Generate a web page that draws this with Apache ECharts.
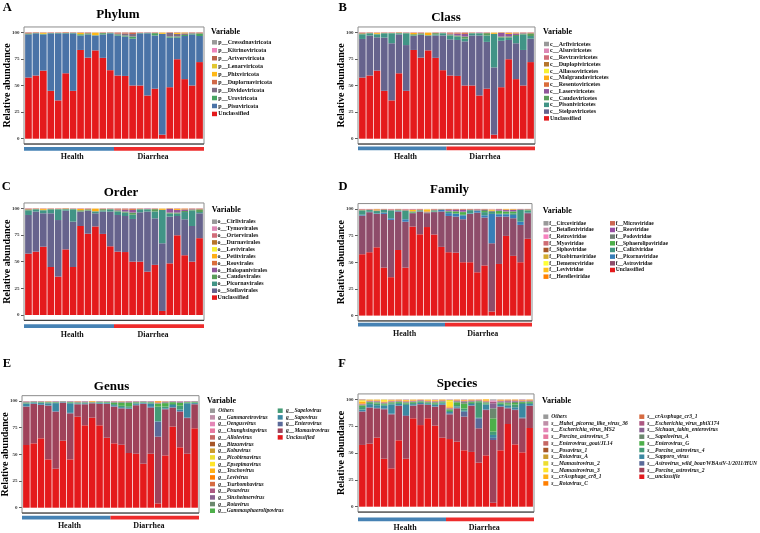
<!DOCTYPE html>
<html><head><meta charset="utf-8">
<script src="https://cdn.jsdelivr.net/npm/echarts@6/dist/echarts.min.js"></script>
<style>html,body{margin:0;padding:0;background:#fff}#c{width:760px;height:533px}</style>
</head><body><div id="c"></div>
<script>
// ---------------- DATA ----------------
const samples = ['H1','H2','H3','H4','H5','H6','H7','H8','H9','H10','H11','H12','D1','D2','D3','D4','D5','D6','D7','D8','D9','D10','D11','D12'];
const groupNames = ['Health','Diarrhea'];
const yTicks = [0,25,50,75,100];
const Z = [0,0,0,0,0,0,0,0,0,0,0,0,0,0,0,0,0,0,0,0,0,0,0,0];

// A  Phylum (stack order bottom -> top)
const phylumNames = ['Unclassified','p__Pisuviricota','p__Uroviricota','p__Dividoviricota','p__Duplornaviricota','p__Phixviricota','p__Lenarviricota','p__Artverviricota','p__Kitrinoviricota','p__Cressdnaviricota'];
const phylumValues = [
 [57.5,59.4,64,45,36,61.5,45,83.4,76.2,83,76,64.4,59.4,59,50,50,40.6,47,3.8,48.4,74.7,56,50,72],
 [40.6,39.6,34,54,63,37.5,54,13.6,21.8,14,22,34.6,37.6,37,44,49,58.4,50,94.6,46.6,20.3,40.5,48,24.5],
 [0.8,0.3,0.6,0.3,0.4,0.4,0.5,1.2,1.0,0.3,1.2,0.5,1.0,1.0,2.0,0.3,0.3,2.2,0.2,1.0,1.0,1.0,0.8,2.5],
 [0,0,0,0,0,0,0,0,0,0,0,0,0.8,1.8,2.4,0,0.4,0,0,3.5,2.5,1.5,0.4,0],
 [0.6,0.4,0,0.4,0.3,0.6,0,0,0.5,0,0.4,0,0.8,0.8,1.0,0.4,0,0.4,0,0.5,0,0,0.4,0.5],
 [0,0,1.0,0,0,0,0,1.3,0,2.2,0,0,0,0,0,0,0,0,0.9,0,1.0,0.7,0,0],
 [0,0,0,0,0,0,0,0,0,0.3,0,0,0,0,0,0,0,0,0.3,0,0,0,0,0],
 [0.4,0.3,0.3,0.2,0.2,0,0.4,0.4,0.4,0.1,0.3,0.4,0.3,0.3,0.5,0.2,0.2,0.3,0.1,0,0.4,0.2,0.3,0.4],
 [0.1,0,0.1,0.1,0.1,0,0.1,0.1,0.1,0.1,0.1,0.1,0.1,0.1,0.1,0.1,0.1,0.1,0.1,0,0.1,0.1,0.1,0.1],
 Z
];

// B  Class
const classNames = ['Unclassified','c__Stelpaviricetes','c__Pisoniviricetes','c__Caudoviricetes','c__Laserviricetes','c__Resentoviricetes','c__Malgrandaviricetes','c__Allassoviricetes','c__Duplopiviricetes','c__Revtraviricetes','c__Alsuviricetes','c__Arfiviricetes'];
const classValues = [
 [57.5,59.4,64,45,36,61.5,45,83.4,76.2,83,76,64.4,59.4,59,50,50,40.6,47,3.8,48.4,74.7,56,50,72],
 [36.25,37.5,31.3,50,53.7,36.5,43,13.1,21.3,13.5,21,32.6,34,33.8,41.5,47,56.4,44,63.2,43.6,18.1,33.7,33.4,22],
 [4.35,2.1,2.7,4,9.3,1,11,0.5,0.5,0.5,1,2,3.6,3.2,2.5,2,2,6,31.4,3,2.2,6.8,14.6,2.5],
 [0.8,0.3,0.6,0.3,0.4,0.4,0.5,1.2,1.0,0.3,1.2,0.5,1.0,1.0,2.0,0.3,0.3,2.2,0.2,1.0,1.0,1.0,0.8,2.5],
 [0,0,0,0,0,0,0,0,0,0,0,0,0.8,1.8,2.4,0,0.4,0,0,3.5,2.5,1.5,0.4,0],
 [0.4,0.2,0,0.2,0.3,0.4,0,0,0.3,0,0.2,0,0.6,0.6,0.8,0.2,0,0.2,0,0.3,0,0,0.2,0.3],
 [0,0,1.0,0,0,0,0,1.3,0,2.2,0,0,0,0,0,0,0,0,0.9,0,1.0,0.7,0,0],
 [0,0,0,0,0,0,0,0,0,0.3,0,0,0,0,0,0,0,0,0.3,0,0,0,0,0],
 [0.2,0.2,0,0.2,0,0.2,0,0,0.2,0,0.2,0,0.2,0.2,0.2,0.2,0,0.2,0,0.2,0,0,0.2,0.2],
 [0.4,0.3,0.3,0.2,0.2,0,0.4,0.4,0.4,0.1,0.3,0.4,0.3,0.3,0.5,0.2,0.2,0.3,0.1,0,0.4,0.2,0.3,0.4],
 [0.1,0,0.1,0.1,0.1,0,0.1,0.1,0.1,0.1,0.1,0.1,0.1,0.1,0.1,0.1,0.1,0.1,0.1,0,0.1,0.1,0.1,0.1],
 Z
];

// C  Order
const orderNames = ['Unclassified','o__Stellavirales','o__Picornavirales','o__Caudovirales','o__Halopanivirales','o__Reovirales','o__Petitvirales','o__Levivirales','o__Durnavirales','o__Ortervirales','o__Tymovirales','o__Cirlivirales'];
const orderValues = [
 [57.5,59.4,64,45,36,61.5,45,83.4,76.2,83,76,64.4,59.4,59,50,50,40.6,47,3.8,48.4,74.7,56,50,72],
 [36.25,37.5,31.3,50.3,53,36.3,42.5,13.5,21.6,12.3,20.9,32.5,34.35,33.8,40,46.25,56.3,43.6,63.4,43.8,18.1,33.7,33.4,23.3],
 [4.35,2.1,2.7,3.7,10,1.2,11.5,0.1,0.2,1.7,1.1,2.1,3.25,3.2,4,2.75,2.1,6.4,31.2,2.8,2.2,6.8,14.6,1.2],
 [0.8,0.3,0.6,0.3,0.4,0.4,0.5,1.2,1.0,0.3,1.2,0.5,1.0,1.0,2.0,0.3,0.3,2.2,0.2,1.0,1.0,1.0,0.8,2.5],
 [0,0,0,0,0,0,0,0,0,0,0,0,0.8,1.8,2.4,0,0.4,0,0,3.5,2.5,1.5,0.4,0],
 [0.4,0.2,0,0.2,0.3,0.4,0,0,0.3,0,0.2,0,0.6,0.6,0.8,0.2,0,0.2,0,0.3,0,0,0.2,0.3],
 [0,0,1.0,0,0,0,0,1.3,0,2.2,0,0,0,0,0,0,0,0,0.9,0,1.0,0.7,0,0],
 [0,0,0,0,0,0,0,0,0,0.3,0,0,0,0,0,0,0,0,0.3,0,0,0,0,0],
 [0.2,0.2,0,0.2,0,0.2,0,0,0.2,0,0.2,0,0.2,0.2,0.2,0.2,0,0.2,0,0.2,0,0,0.2,0.2],
 [0.4,0.3,0.3,0.2,0.2,0,0.4,0.4,0.4,0.1,0.3,0.4,0.3,0.3,0.5,0.2,0.2,0.3,0.1,0,0.4,0.2,0.3,0.4],
 [0.1,0,0.1,0.1,0.1,0,0.1,0.1,0.1,0.1,0.1,0.1,0.1,0.1,0.1,0.1,0.1,0.1,0.1,0,0.1,0.1,0.1,0.1],
 Z
];

// D  Family
const familyNames = ['Unclassified','f__Astroviridae','f__Picornaviridae','f__Caliciviridae','f__Sphaerolipoviridae','f__Podoviridae','f__Reoviridae','f__Microviridae','f__Herelleviridae','f__Leviviridae','f__Demerecviridae','f__Picobirnaviridae','f__Siphoviridae','f__Myoviridae','f__Retroviridae','f__Betaflexiviridae','f__Circoviridae'];
const familyValues = [
 [57.5,59.4,64,45,36,61.5,45,83.4,76.2,83,76,64.4,59.4,59,50,50,40.6,47,3.8,48.4,74.7,56,50,72],
 [36.25,37.5,31.3,50.3,53.7,36,43,12.6,21.3,13,21,33.1,34,33.8,40.3,45.3,55.9,44.9,64,44.4,18.1,35.25,35,24],
 [0.8,0.4,0.5,1.2,1.5,0.5,2.3,0.3,0.3,0.3,0.3,1.5,2.6,2.5,3.7,0.5,1.5,2.1,27.5,2.2,2.2,3.1,3,0.5],
 [3.5,1.6,2.2,2.5,7.3,0.5,8,0.2,0.2,0.2,0.5,0.3,1.2,0.5,0.5,3,0.3,3.0,2.0,0.5,0.5,1.5,11,2],
 [0.5,0,0,0,0,0.3,0,0.6,0.5,0,0.6,0,0.6,1.8,2.5,0,0,1.0,0,2.5,2.0,1.5,0,0.6],
 [0.4,0.3,0.4,0.3,0.4,0.4,0.5,0.6,0.5,0.3,0.6,0.3,0.4,0.4,0.5,0.4,0.5,1.2,1.0,0.5,0.4,0.6,0.3,0.4],
 [0,0,0,0,0,0,0,0,0,0,0,0,0.8,1.2,1.5,0,0.5,0,0,1.0,1.0,1.0,0.3,0],
 [0.3,0.2,0.3,0.3,0.3,0.4,0.4,0,0.4,0.8,0.4,0,0.6,0.6,0.7,0.4,0,0.4,0,0.5,0.6,0,0,0.3],
 Z,
 [0,0,0.8,0,0,0,0,1.3,0,1.8,0,0,0,0,0,0,0,0,0.8,0,0.5,0.6,0,0],
 [0,0,0,0,0,0,0,0,0,0.3,0,0,0,0,0,0,0,0,0.3,0,0,0,0,0],
 Z,
 [0.2,0.2,0.2,0.2,0.2,0.2,0.2,0.3,0.2,0,0.2,0.2,0.2,0,0,0.2,0.3,0.2,0,0,0,0.2,0.2,0],
 [0.4,0.3,0.3,0.2,0.4,0.2,0.4,0.5,0.4,0.2,0.4,0.2,0.2,0.2,0.3,0.2,0.4,0.2,0.3,0,0,0.25,0.2,0.2],
 [0.15,0.1,0,0,0.2,0,0.2,0.2,0,0.1,0,0,0,0,0,0,0,0,0.3,0,0,0,0,0],
 Z,
 Z
];

// E  Genus
const genusNames = ['Unclassified','g__Mamastrovirus','g__Enterovirus','g__Sapovirus','g__Sapelovirus','g__Gammasphaerolipovirus','g__Rotavirus','g__Sinsheimervirus','g__Posavirus','g__Tsarbombavirus','g__Levivirus','g__Teschovirus','g__Epsepimavirus','g__Picobirnavirus','g__Kobuvirus','g__Bizzanvirus','g__Allolevirus','g__Chunghsingvirus','g__Oengusvirus','g__Gammaretrovirus','Others'];
const genusValues = [
 [58.75,60.3,65,45.3,36.6,62.8,45.3,85.3,77.2,84.4,77.2,65.6,60.3,59,51.25,50.6,41.25,50.6,4,49,76,56.6,50.6,74.4],
 [35.95,36.9,31.25,50.3,53.4,35.6,43.1,11.6,19.7,13.4,20,31.6,34.4,34,41.25,45.4,55.95,43.15,62.6,43.2,17.75,33.4,33.4,22.5],
 [0.3,0.3,0.3,0.4,0.5,0.2,0.5,0.2,0.3,0.2,0.3,0.3,0.4,0.5,0.5,0.4,0.4,0.8,14,0.5,0.5,0.6,0.6,0.3],
 [2.5,1.1,1.5,1.8,7.5,0.4,9.0,0.5,0.6,0.3,0.8,0.6,1.0,0.8,0.6,1.2,0.8,3.0,0.5,0.6,2.0,1.5,13.3,0.8],
 [0.5,0.3,0.5,0.6,0.5,0.3,0.6,0.4,0.4,0.3,0.4,0.4,1.0,1.2,1.5,0.6,0.4,0.8,13.6,1.5,1.0,3.5,0.6,0.6],
 [0.5,0.3,0.4,0.4,0.4,0.2,0.5,0.5,0.4,0.2,0.4,0.5,1.3,2.8,3.2,0.6,0.4,0.5,2.8,3.2,1.6,2.5,0.5,0.6],
 [0.3,0.2,0.3,0.3,0.3,0.2,0.3,0.3,0.3,0.2,0.3,0.3,0.5,0.6,0.6,0.4,0.3,0.4,0.4,0.7,0.4,0.6,0.3,0.3],
 [0.2,0.2,0.2,0.2,0.2,0,0.2,0.2,0.5,0,0.2,0.2,0.3,0.3,0.3,0.2,0.2,0.2,0.2,0.3,0.3,0.5,0.2,0.2],
 [0.3,0.2,0.2,0.2,0.3,0.2,0.3,0.3,0.3,0,0.2,0.3,0.3,0.3,0.4,0.3,0.2,0.3,0.3,0.4,0.3,0.4,0.3,0.2],
 [0.2,0.1,0.2,0,0,0,0,0,0,0,0,0,0.2,0,0.2,0,0,0,0.3,0,0,0,0,0],
 [0,0,0,0,0,0,0,0.4,0,0.6,0,0,0,0,0,0,0,0,1.0,0,0,0,0,0],
 [0,0,0,0.3,0,0,0,0,0,0.3,0,0,0,0.3,0,0,0,0,0.3,0.3,0,0,0,0],
 Z, Z, Z, Z, Z, Z, Z,
 [0.5,0.1,0.15,0.2,0.3,0.1,0.2,0.3,0.3,0.1,0.2,0.2,0.3,0.2,0.2,0.3,0.1,0.25,0,0.3,0.15,0.4,0.2,0.1],
 Z
];

// F  Species
const speciesNames = ['s__unclassifie','s__Porcine_astrovirus_2','s__Astrovirus_wild_boar/WBAstV-1/2011/HUN','s__Sapporo_virus','s__Porcine_astrovirus_4','s__Enterovirus_G','s__Sapelovirus_A','s__Sichuan_takin_enterovirus','s__Escherichia_virus_phiX174','s__crAssphage_cr3_1','s__Rotavirus_C','s__crAssphage_cr8_1','s__Mamastrovirus_3','s__Mamastrovirus_2','s__Rotavirus_A','s__Posavirus_1','s__Enterovirus_goat/JL14','s__Porcine_astrovirus_5','s__Escherichia_virus_MS2','s__Hubei_picorna_like_virus_36','Others'];
const speciesValues = [
 [57.5,58.7,64.3,44.7,35.7,61.8,44.7,82.3,76,82.3,75.5,64.3,63,60.6,52.5,51,41,47.8,3.7,52.5,77,58,50.6,73.3],
 [31,33.5,27.3,46,50.3,32,39.8,11.7,19.3,12.4,17.5,30.4,23,31,31.4,43,32,42.2,58.4,40.5,14.6,32,31.7,20.5],
 [0.5,0.5,0.4,0.8,0.6,0.4,0.8,0.3,0.3,0.3,0.4,0.3,1.0,0.6,4.5,0.4,9.3,0.6,2.0,0.5,0.6,0.6,0.8,0.4],
 [1.5,2.8,2.5,2.5,8.7,1.5,9.5,1.2,1.0,0.8,1.5,1.3,1.2,1.0,1.0,1.2,0.5,4.5,2.7,1.2,1.8,2.0,12.5,1.5],
 [2.3,1.0,1.5,1.0,1.0,1.0,1.2,1.0,0.8,0.8,1.0,0.8,1.0,1.5,2.0,1.0,14.5,1.0,3.1,1.2,1.2,2.5,1.0,1.0],
 [1.5,0.8,1.0,0.8,0.8,0.8,0.8,0.8,0.6,0.6,0.8,0.6,1.2,2.5,4.5,0.8,0.8,0.8,12.4,1.0,1.2,1.5,0.8,0.8],
 [0.5,0.5,0.6,0.5,0.5,0.5,0.5,0.5,0.4,0.4,0.6,0.4,0.6,0.8,1.5,0.6,0.4,0.5,9.3,0.6,0.8,1.0,0.5,0.6],
 [0.3,0.3,0.4,0.4,0.3,0.3,0.3,0.3,0.5,0.3,0.4,0.3,0.4,0.5,0.6,0.5,0.3,0.3,4.7,0.5,1.0,0.6,0.4,0.4],
 [0.3,0.3,0.3,0.3,0.3,0.3,0.3,0.3,0.3,0.3,0.3,0.3,0.3,0.3,0.3,0.3,0.3,0.3,1.5,0.4,0.6,0.5,0.3,0.3],
 [0.4,0.3,0.3,0.3,0.3,0.3,0.3,0.3,0.2,0.3,0.3,0.3,0.3,0.3,0.4,0.3,0.3,0.3,0,0.4,0.4,0.4,0.3,0.3],
 [0.5,0.3,0.3,0.3,0.3,0.3,0.3,0.3,0.2,0.3,0.3,0.3,0.5,0.3,0.3,0.3,0.2,0.5,0,0.3,0.3,0.3,0.3,0.3],
 [1.5,0.5,0.6,0.5,0.5,0.5,0.7,0.6,0.2,0.7,0.6,0.5,1.0,0.4,0.5,0.4,0.2,2.0,0,0.6,0.3,0.4,0.2,0.4],
 [0.8,0.3,0.3,1.2,0.3,0,0.3,0.2,0,0.3,0.3,0,4.5,0,0,0,0,0.8,0,0,0,0,0,0],
 [0.5,0,0,0.5,0,0,0,0,0,0,0,0,1.5,0,0,0,0,0,0,0,0,0,0,0],
 [0.4,0,0,0,0,0,0,0,0,0,0,0,0,0,0,0,0,0,0,0,0,0,0,0],
 [0.3,0,0,0,0,0,0,0,0,0,0,0,0,0,0,0,0,0,0,0,0,0,0,0],
 Z,
 Z,
 [0,0,0,0,0,0,0,0,0,0,0,0,0,0,0,0,0,0,1.0,0,0,0,0,0],
 [0.2,0.2,0.2,0.2,0.4,0.3,0.5,0.2,0.2,0.2,0.5,0.2,0.5,0.2,0.5,0.2,0.2,0.4,0.7,0.3,0.2,0.2,0.6,0.2],
 [0,0,0,0,0,0,0,0,0,0,0,0,0,0,0,0,0,0,0.5,0,0,0,0,0]
];

// ---------------- STYLE / LAYOUT ----------------
const SERIF = '"Liberation Serif","Times New Roman",serif';
const SET1 = ['#E41A1C','#377EB8','#4DAF4A','#984EA3','#FF7F00','#FFFF33','#A65628','#F781BF','#999999'];
function hexToRgb(h){ return [1,3,5].map(i => parseInt(h.substr(i,2),16)); }
function ramp(n){
  const c = SET1.map(hexToRgb), m = c.length - 1, out = [];
  for (let i = 0; i < n; i++) {
    const t = n === 1 ? 0 : i * m / (n - 1);
    const k = Math.min(Math.floor(t), m - 1), f = t - k;
    const rgb = c[k].map((v, j) => Math.round(v + (c[k+1][j] - v) * f));
    out.push('rgb(' + rgb.join(',') + ')');
  }
  return out;
}

const panels = [
 {letter:'A', title:'Phylum', names:phylumNames, values:phylumValues,
  x0:24, x1:204, y100:32.3, y0:138.7, tx:118, ty:15, lx:2.7, ly:7.5, barTop:147, labelY:157.3,
  vx:211, vy:32.3, cols:[[212,10]], first:42.3, step:7.96, font:6, italic:false, toff:6.3},
 {letter:'B', title:'Class', names:classNames, values:classValues,
  x0:358, x1:535, y100:32.3, y0:138.7, tx:446, ty:17.5, lx:338.5, ly:7.5, barTop:146.5, labelY:157.3,
  vx:543, vy:31.7, cols:[[544,12]], first:44, step:6.76, font:6, italic:false, toff:6},
 {letter:'C', title:'Order', names:orderNames, values:orderValues,
  x0:24, x1:204, y100:208.3, y0:315, tx:121, ty:192.8, lx:1.7, ly:186.7, barTop:324.3, labelY:335,
  vx:211.7, vy:210, cols:[[212,12]], first:221.7, step:6.9, font:6, italic:false, toff:5.6},
 {letter:'D', title:'Family', names:familyNames, values:familyValues,
  x0:358, x1:532, y100:208.9, y0:315.6, tx:449.5, ty:189.7, lx:338.5, ly:186.7, barTop:322.7, labelY:334,
  vx:542.7, vy:210.7, cols:[[543.5,9],[610,8]], first:223.3, step:6.67, font:5.5, italic:false, toff:5.7},
 {letter:'E', title:'Genus', names:genusNames, values:genusValues,
  x0:22, x1:199, y100:401, y0:507.7, tx:111.5, ty:386.7, lx:2.7, ly:363.7, barTop:515.7, labelY:526,
  vx:207, vy:401, cols:[[210,16],[277.7,5]], first:410.7, step:6.67, font:5.6, italic:true, toff:8.3},
 {letter:'F', title:'Species', names:speciesNames, values:speciesValues,
  x0:358, x1:534, y100:399.3, y0:506.7, tx:457, ty:384, lx:338.3, ly:364.2, barTop:517.5, labelY:528.3,
  vx:542, vy:401, cols:[[543.3,11],[639.3,10]], first:416.7, step:6.67, font:5.6, italic:true, toff:8}
];

const chart = echarts.init(document.getElementById('c'), null, {renderer:'canvas'});
const grid = [], xAxis = [], yAxis = [], series = [], legend = [];

panels.forEach((P, p) => {
  const u = (P.x1 - P.x0) / 24.2;
  grid.push({left: P.x0 + 0.1*u, top: P.y100, width: 24*u, height: P.y0 - P.y100, containLabel:false, outerBoundsMode:'none'});
  xAxis.push({gridIndex:p, type:'category', data:samples, boundaryGap:true,
    axisLine:{show:false}, axisTick:{show:false}, axisLabel:{show:false}, splitLine:{show:false}});
  yAxis.push({gridIndex:p, type:'value', min:yTicks[0], max:yTicks[yTicks.length-1], interval:25, offset:0.1*u,
    axisLine:{show:false},
    axisTick:{show:true, length:3, lineStyle:{color:'#333', width:0.8}},
    axisLabel:{fontSize:5, fontFamily:SERIF, fontWeight:'bold', color:'#333', margin:4.6},
    splitLine:{show:false}});
  const cols = ramp(P.names.length);
  P.names.forEach((nm, i) => {
    series.push({type:'bar', name:nm, stack:'s'+p, xAxisIndex:p, yAxisIndex:p, data:P.values[i],
      barCategoryGap:'10%', itemStyle:{color:cols[i]}, emphasis:{disabled:true}, silent:true});
  });
  const order = P.names.slice().reverse();
  let start = 0;
  P.cols.forEach(c => {
    legend.push({orient:'vertical', left:c[0], top:P.first - P.step/2, padding:0, itemGap:0,
      itemWidth:5, itemHeight:4.5, icon:'rect', selectedMode:false,
      data: order.slice(start, start + c[1]),
      textStyle:{fontFamily:SERIF, fontWeight:'bold', fontStyle:P.italic ? 'italic' : 'normal',
        fontSize:P.font, lineHeight:P.step, color:'#111', padding:[0,0,0,P.toff - 10]}});
    start += c[1];
  });
});

chart.setOption({animation:false, backgroundColor:'#fff', grid, xAxis, yAxis, series, legend});

// ---------------- ANNOTATIONS ----------------
const els = [];
const groupColors = ['#4682B4','#EE2C2C'];
panels.forEach((P, p) => {
  const s = (P.y0 - P.y100) / 100, top = P.y100 - 5*s, bot = P.y0 + 5*s, W = P.x1 - P.x0;
  els.push({type:'rect', z:100, silent:true, shape:{x:P.x0, y:top, width:W, height:bot-top},
    style:{fill:'none', stroke:'#8c8c8c', lineWidth:1}});
  els.push({type:'line', z:101, silent:true, shape:{x1:P.x0, y1:bot, x2:P.x1, y2:bot},
    style:{stroke:'#333', lineWidth:1}});
  const a = chart.convertToPixel({xAxisIndex:p}, samples[11]);
  const b = chart.convertToPixel({xAxisIndex:p}, samples[12]);
  const mid = (a + b) / 2;
  els.push({type:'rect', z:100, silent:true, shape:{x:P.x0, y:P.barTop, width:mid-P.x0, height:3.7}, style:{fill:groupColors[0]}});
  els.push({type:'rect', z:100, silent:true, shape:{x:mid, y:P.barTop, width:P.x1-mid, height:3.7}, style:{fill:groupColors[1]}});
  [0.268, 0.717].forEach((f, g) => {
    els.push({type:'text', z:100, silent:true, x:P.x0 + f*W, y:P.labelY,
      style:{text:groupNames[g], font:'bold 8px ' + SERIF, fill:'#111', textAlign:'center', textVerticalAlign:'middle'}});
  });
  els.push({type:'text', z:100, silent:true, x:P.tx, y:P.ty,
    style:{text:P.title, font:'bold 13px ' + SERIF, fill:'#000', textAlign:'center', textVerticalAlign:'middle'}});
  els.push({type:'text', z:100, silent:true, x:P.lx, y:P.ly,
    style:{text:P.letter, font:'bold 12.5px ' + SERIF, fill:'#000', textAlign:'left', textVerticalAlign:'middle'}});
  els.push({type:'text', z:100, silent:true, x:P.x0 - 16.5, y:(P.y100 + P.y0)/2, rotation:Math.PI/2,
    style:{text:'Relative abundance', font:'bold 10px ' + SERIF, fill:'#000', textAlign:'center', textVerticalAlign:'middle'}});
  els.push({type:'text', z:100, silent:true, x:P.vx, y:P.vy,
    style:{text:'Variable', font:'bold 8px ' + SERIF, fill:'#000', textAlign:'left', textVerticalAlign:'middle'}});
});
chart.setOption({graphic:{elements:els}});
</script>
</body></html>
